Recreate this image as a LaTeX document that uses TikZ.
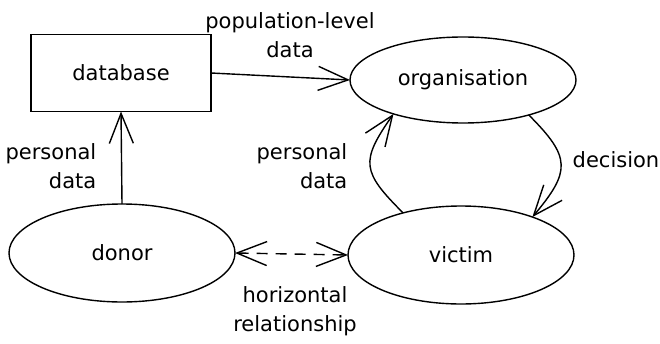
\documentclass[tikz,border=0pt]{standalone}
\usepackage{fontspec}
\setmainfont{DejaVu Sans}
\usetikzlibrary{arrows.meta,shapes.geometric}

\begin{document}
\begin{tikzpicture}
  [x=1pt,y=1pt,line width=1.4pt,
   every node/.style={font=\fontsize{21}{29}\selectfont},
   box/.style={draw,rectangle,minimum width=180pt,minimum height=77pt,inner sep=0pt,outer sep=0pt},
   blob/.style={draw,ellipse,minimum width=226pt,minimum height=98pt,inner sep=0pt,outer sep=0pt},
   textnode/.style={inner sep=0pt},
   link/.style={-{Straight Barb[length=30pt,width=24pt]}}]
  \useasboundingbox (0,0) rectangle (660,343);

  \node[box] (database) at (121,270) {database};
  \node[blob,minimum height=86pt] (organisation) at (463,263) {organisation};
  \node[blob] (donor) at (122,90) {donor};
  \node[blob] (victim) at (461,88) {victim};

  \node[textnode,align=center] (poplabel) at (290,308) {population-level\\data};
  \node[textnode,align=right,anchor=east] (donorlabel) at (97,177) {personal\\data};
  \node[textnode,align=right,anchor=east] (victimlabel) at (348,177) {personal\\data};
  \node[textnode,anchor=west] (decisionlabel) at (572,183) {decision};
  \node[textnode,align=center] (horizlabel) at (295,32) {horizontal\\relationship};

  \foreach \from/\to in {database.east/organisation.west,donor.north/database.south}
    \draw[link] (\from) -- (\to);

  \draw[link] (victim.144) to[out=135,in=235,looseness=1.5] (organisation.206);
  \draw[link] (organisation.332) to[out=-45,in=50,looseness=1.5] (victim.28);
  \draw[{Straight Barb[length=30pt,width=24pt]}-{Straight Barb[length=30pt,width=24pt]},
        dash pattern=on 11pt off 8pt] (donor.east) -- (victim.west);

\end{tikzpicture}
\end{document}
